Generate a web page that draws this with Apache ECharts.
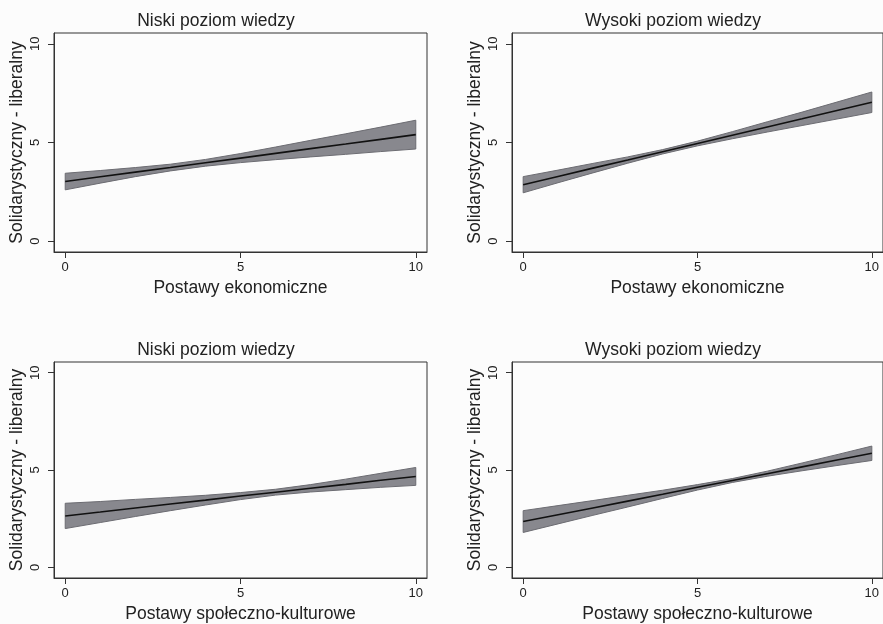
<!DOCTYPE html>
<html>
<head>
<meta charset="utf-8">
<script src="https://cdn.jsdelivr.net/npm/echarts@6/dist/echarts.min.js"></script>
<style>
  html, body { margin: 0; padding: 0; background: #fcfcfc; }
  #chart { width: 883px; height: 624px; }
</style>
</head>
<body>
<div id="chart"></div>
<script>
// Predicted position (fit) with 95% confidence band, by level of political knowledge
const xValues = [0, 1, 2, 3, 4, 5, 6, 7, 8, 9, 10];
const xTicks = [0, 5, 10];
const yTicks = [0, 5, 10];

const panelTitles = ['Niski poziom wiedzy', 'Wysoki poziom wiedzy', 'Niski poziom wiedzy', 'Wysoki poziom wiedzy'];
const xNames = ['Postawy ekonomiczne', 'Postawy ekonomiczne', 'Postawy społeczno-kulturowe', 'Postawy społeczno-kulturowe'];
const yName = 'Solidarystyczny - liberalny';

// Economic attitudes, low knowledge
const fitEcoLow   = [3.02, 3.26, 3.50, 3.73, 3.97, 4.21, 4.45, 4.69, 4.92, 5.16, 5.40];
const loEcoLow    = [2.60, 2.94, 3.27, 3.56, 3.80, 3.98, 4.13, 4.27, 4.40, 4.54, 4.67];
const hiEcoLow    = [3.44, 3.58, 3.73, 3.90, 4.14, 4.44, 4.77, 5.11, 5.44, 5.78, 6.13];
// Economic attitudes, high knowledge
const fitEcoHigh  = [2.86, 3.28, 3.70, 4.11, 4.53, 4.95, 5.37, 5.79, 6.20, 6.62, 7.04];
const loEcoHigh   = [2.45, 2.96, 3.46, 3.95, 4.42, 4.83, 5.19, 5.53, 5.86, 6.19, 6.52];
const hiEcoHigh   = [3.27, 3.60, 3.94, 4.27, 4.64, 5.07, 5.55, 6.05, 6.54, 7.05, 7.56];
// Socio-cultural attitudes, low knowledge
const fitSocLow   = [2.64, 2.84, 3.05, 3.25, 3.45, 3.66, 3.86, 4.06, 4.26, 4.47, 4.67];
const loSocLow    = [1.99, 2.30, 2.61, 2.91, 3.20, 3.48, 3.71, 3.87, 3.99, 4.11, 4.21];
const hiSocLow    = [3.29, 3.38, 3.49, 3.59, 3.70, 3.84, 4.01, 4.25, 4.53, 4.83, 5.13];
// Socio-cultural attitudes, high knowledge
const fitSocHigh  = [2.35, 2.70, 3.05, 3.40, 3.75, 4.11, 4.46, 4.81, 5.16, 5.51, 5.86];
const loSocHigh   = [1.79, 2.23, 2.67, 3.10, 3.54, 3.97, 4.36, 4.68, 4.96, 5.23, 5.49];
const hiSocHigh   = [2.91, 3.17, 3.43, 3.70, 3.96, 4.25, 4.56, 4.94, 5.36, 5.79, 6.23];

const panels = [
  { fit: fitEcoLow,  lo: loEcoLow,  hi: hiEcoLow  },
  { fit: fitEcoHigh, lo: loEcoHigh, hi: hiEcoHigh },
  { fit: fitSocLow,  lo: loSocLow,  hi: hiSocLow  },
  { fit: fitSocHigh, lo: loSocHigh, hi: hiSocHigh }
];

const FONT = 'Liberation Sans, Arial, Helvetica, sans-serif';
const INK = '#222';
const gridBoxes = [
  { left: 54,  top: 33,  width: 373, height: 219 },
  { left: 512, top: 33,  width: 372, height: 219 },
  { left: 54,  top: 362, width: 373, height: 219 },
  { left: 512, top: 362, width: 372, height: 219 }
];
const titleCenters = [[216, 12], [673, 12], [216, 341], [673, 341]];

const grid = gridBoxes.map(b => Object.assign({
  show: true, borderColor: '#333', borderWidth: 1, backgroundColor: 'transparent', containLabel: false
}, b));

const xAxis = panels.map((p, i) => ({
  type: 'value', gridIndex: i, min: -0.32, max: 10.32,
  name: xNames[i], nameLocation: 'middle', nameGap: 27,
  nameTextStyle: { fontFamily: FONT, fontSize: 17.5, color: INK },
  axisLine: { show: true, onZero: false, lineStyle: { color: '#333', width: 1 } },
  axisTick: { show: true, length: 6, customValues: xTicks, lineStyle: { color: '#333' } },
  axisLabel: { customValues: xTicks, margin: 9, fontFamily: FONT, fontSize: 13, color: INK },
  splitLine: { show: false }
}));

const yAxis = panels.map((p, i) => ({
  type: 'value', gridIndex: i, min: -0.55, max: 10.55,
  name: yName, nameLocation: 'middle', nameGap: 28,
  nameTextStyle: { fontFamily: FONT, fontSize: 17.5, color: INK },
  axisLine: { show: true, onZero: false, lineStyle: { color: '#333', width: 1 } },
  axisTick: { show: true, length: 6, customValues: yTicks, lineStyle: { color: '#333' } },
  axisLabel: { customValues: yTicks, rotate: 90, margin: 12, fontFamily: FONT, fontSize: 13, color: INK },
  splitLine: { show: false }
}));

const series = [];
panels.forEach((p, i) => {
  // confidence band as a closed polygon: upper edge forward, lower edge back
  series.push({
    type: 'custom', xAxisIndex: i, yAxisIndex: i, silent: true, clip: true,
    data: [[xValues[0], p.lo[0]]],
    renderItem: (params, api) => {
      const pts = [];
      for (let k = 0; k < xValues.length; k++) pts.push(api.coord([xValues[k], p.hi[k]]));
      for (let k = xValues.length - 1; k >= 0; k--) pts.push(api.coord([xValues[k], p.lo[k]]));
      return {
        type: 'polygon', shape: { points: pts },
        style: { fill: '#88888e', stroke: '#6c6c72', lineWidth: 1 }
      };
    },
    z: 2
  });
  series.push({
    type: 'line', xAxisIndex: i, yAxisIndex: i, silent: true,
    data: xValues.map((x, k) => [x, p.fit[k]]),
    symbol: 'none', lineStyle: { color: '#111', width: 1.6 }, z: 3
  });
});

const title = panelTitles.map((t, i) => ({
  text: t, left: titleCenters[i][0], top: titleCenters[i][1], textAlign: 'center', padding: 0,
  textStyle: { fontFamily: FONT, fontSize: 17.5, fontWeight: 'normal', color: INK }
}));

const chart = echarts.init(document.getElementById('chart'), null, { renderer: 'canvas' });
chart.setOption({
  backgroundColor: '#fcfcfc',
  animation: false,
  title, grid, xAxis, yAxis, series
});
</script>
</body>
</html>
